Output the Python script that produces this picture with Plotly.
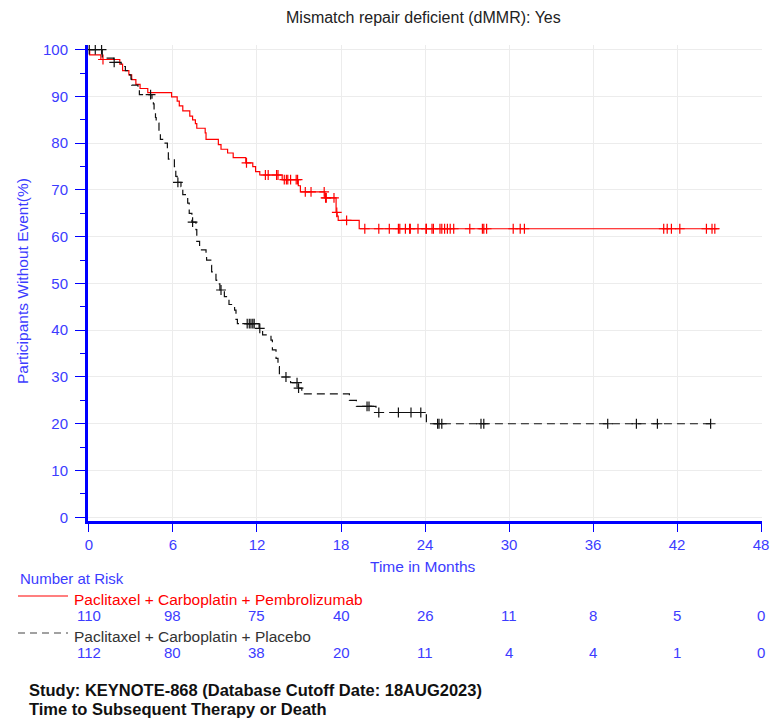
import numpy as np
import plotly.graph_objects as go

# ---- Kaplan-Meier data (months, % without event) ----
pembro_event_months = [0.05, 0.85, 2.2, 2.4, 2.85, 3.05, 3.35, 3.65, 4.2,
                       5.9, 6.3, 6.45, 6.7, 7.2, 7.4, 7.6, 7.7, 8.3, 8.36,
                       9.24, 9.43, 9.9, 10.3, 11.2, 11.7, 11.9, 12.2, 13.8,
                       14.95, 15.1, 16.85, 17.65, 17.72, 17.8, 19.3]
pembro_surv_pct = [98.9, 97.9, 96.9, 95.5, 94.6, 93.6, 92.6, 91.7, 90.8,
                   89.9, 89.0, 88.0, 86.9, 85.8, 85.0, 84.2, 83.2, 82.2, 80.8,
                   79.7, 78.7, 77.9, 76.9, 75.8, 75.0, 73.9, 73.2, 72.2,
                   70.9, 69.6, 68.3, 65.2, 64.4, 63.5, 61.7]
pembro_censor_months = [1.0, 11.25, 12.6, 12.8, 13.4, 13.5, 13.95, 14.1, 14.2,
                        14.4, 14.8, 14.9, 15.45, 15.86, 16.8, 16.9, 16.95, 17.5,
                        17.7, 18.4, 19.7, 20.7, 21.45, 22.1, 22.2, 22.6, 22.9,
                        22.95, 23.5, 24.07, 24.1, 24.5, 24.6, 25.07, 25.2, 25.4,
                        25.6, 25.8, 26.05, 27.2, 28.1, 28.2, 28.4, 30.3, 30.8,
                        31.1, 41.05, 41.3, 41.6, 42.2, 44.1, 44.5, 44.7]
pembro_last_month = 45.0

placebo_event_months = [0.95, 1.75, 2.3, 2.6, 2.9, 3.0, 3.05, 3.5, 3.6, 4.5,
                        4.6, 4.65, 4.75, 4.8, 5.0, 5.1, 5.26, 5.6, 5.67, 6.1,
                        6.2, 6.3, 6.57, 6.7, 7.05, 7.16, 7.35, 7.64, 7.7, 7.9,
                        8.36, 8.4, 8.7, 8.76, 9.07, 9.12, 9.35, 9.67, 10.0,
                        10.4, 10.5, 10.6, 12.15, 12.4, 13.0, 13.1, 13.36, 13.5,
                        13.6, 14.4, 14.95, 15.2, 18.6, 19.1, 20.5, 24.1]
placebo_surv_pct = [98.2, 97.3, 96.4, 95.5, 94.6, 93.7, 92.4, 91.4, 90.4, 89.3,
                    88.4, 86.6, 85.5, 84.3, 82.2, 80.8, 80.0, 78.6, 76.6, 75.0,
                    72.9, 71.6, 70.7, 69.0, 67.2, 65.0, 63.1, 61.5, 59.0, 57.2,
                    56.1, 55.0, 53.9, 52.5, 50.7, 49.9, 48.6, 47.2, 45.5,
                    44.3, 42.3, 41.4, 40.4, 39.0, 37.9, 35.8, 34.0, 32.2,
                    30.0, 28.8, 27.6, 26.4, 25.0, 23.7, 22.4, 20.0]
placebo_censor_months = [0.02, 0.45, 0.9, 1.8, 4.4, 6.35, 7.4, 9.43, 11.3, 11.45,
                         11.57, 11.7, 11.8, 12.2, 14.07, 14.86, 14.97, 19.86,
                         20.0, 20.7, 22.1, 23.0, 23.7, 24.9, 25.0, 25.2, 28.0,
                         28.2, 37.05, 39.1, 40.6, 44.4]
placebo_last_month = 44.55

# ---- Number at risk table ----
risk_months = [0, 6, 12, 18, 24, 30, 36, 42, 48]
pembro_at_risk = [110, 98, 75, 40, 26, 11, 8, 5, 0]
placebo_at_risk = [112, 80, 38, 20, 11, 4, 4, 1, 0]

pembro_label = "Paclitaxel + Carboplatin + Pembrolizumab"
placebo_label = "Paclitaxel + Carboplatin + Placebo"
chart_title = "Mismatch repair deficient (dMMR): Yes"
y_title = "Participants Without Event(%)"
x_title = "Time in Months"
footer_lines = ["Study: KEYNOTE-868 (Database Cutoff Date: 18AUG2023)",
                "Time to Subsequent Therapy or Death"]

# ---- layout geometry ----
W, H = 772, 718
L, R, T, B = 88, 10, 45, 197
PW, PH = W - L - R, H - T - B
FONT = "Liberation Sans, Arial, Helvetica, sans-serif"
BLUE = "#0000ff"
TXT_BLUE = "#3c3cff"
RED = "#ff0000"


def px_x(px):
    return (px - L) / PW


def px_y(py):
    return (H - B - py) / PH


def step_curve(ev_t, ev_s, last):
    xs = [0.0] + list(ev_t) + [last]
    ys = [100.0] + list(ev_s) + [ev_s[-1]]
    return xs, ys


def surv_at(times, ev_t, ev_s):
    t_arr = np.asarray(ev_t)
    s_arr = np.concatenate([[100.0], np.asarray(ev_s)])
    idx = np.searchsorted(t_arr, np.asarray(times), side="right")
    return s_arr[idx]


fig = go.Figure()

for ev_t, ev_s, last, cens, color, dash in [
    (pembro_event_months, pembro_surv_pct, pembro_last_month,
     pembro_censor_months, RED, "solid"),
    (placebo_event_months, placebo_surv_pct, placebo_last_month,
     placebo_censor_months, "#111111", "8px,5px"),
]:
    xs, ys = step_curve(ev_t, ev_s, last)
    fig.add_trace(go.Scatter(
        x=xs, y=ys, mode="lines", line_shape="hv",
        line=dict(color=color, width=1.2, dash=dash),
        hoverinfo="skip", showlegend=False))
    fig.add_trace(go.Scatter(
        x=cens, y=surv_at(cens, ev_t, ev_s), mode="markers",
        marker=dict(symbol="cross-thin", size=7,
                    line=dict(color=color, width=1.2), color=color),
        hoverinfo="skip", showlegend=False))

annotations = []

# chart title
annotations.append(dict(text=chart_title, x=px_x(423), y=px_y(18),
                        xref="paper", yref="paper", showarrow=False,
                        xanchor="center", yanchor="middle",
                        font=dict(family=FONT, size=16, color="#222222")))
# axis titles
annotations.append(dict(text=y_title, x=px_x(22), y=px_y(281),
                        xref="paper", yref="paper", showarrow=False,
                        textangle=-90, xanchor="center", yanchor="middle",
                        font=dict(family=FONT, size=15.5, color=TXT_BLUE)))
annotations.append(dict(text=x_title, x=px_x(423), y=px_y(566),
                        xref="paper", yref="paper", showarrow=False,
                        xanchor="center", yanchor="middle",
                        font=dict(family=FONT, size=15.5, color=TXT_BLUE)))
# number at risk block
annotations.append(dict(text="Number at Risk", x=px_x(18), y=px_y(578),
                        xref="paper", yref="paper", showarrow=False,
                        xanchor="left", yanchor="middle",
                        font=dict(family=FONT, size=15, color=TXT_BLUE)))
annotations.append(dict(text=pembro_label, x=px_x(72), y=px_y(599),
                        xref="paper", yref="paper", showarrow=False,
                        xanchor="left", yanchor="middle",
                        font=dict(family=FONT, size=15.5, color=RED)))
annotations.append(dict(text=placebo_label, x=px_x(72), y=px_y(636),
                        xref="paper", yref="paper", showarrow=False,
                        xanchor="left", yanchor="middle",
                        font=dict(family=FONT, size=15.5, color="#333333")))
for m, n1, n2 in zip(risk_months, pembro_at_risk, placebo_at_risk):
    for n, py in [(n1, 615), (n2, 652)]:
        annotations.append(dict(text=str(n), x=m, y=px_y(py),
                                xref="x", yref="paper", showarrow=False,
                                xanchor="center", yanchor="middle",
                                font=dict(family=FONT, size=15,
                                          color=TXT_BLUE)))
for i, line in enumerate(footer_lines):
    annotations.append(dict(text="<b>%s</b>" % line, x=px_x(27),
                            y=px_y(690 + 19 * i),
                            xref="paper", yref="paper", showarrow=False,
                            xanchor="left", yanchor="middle",
                            font=dict(family=FONT, size=16.5,
                                      color="#111111")))

shapes = [
    dict(type="line", xref="paper", yref="paper",
         x0=px_x(18), x1=px_x(68), y0=px_y(596), y1=px_y(596),
         line=dict(color=RED, width=1.2)),
    dict(type="line", xref="paper", yref="paper",
         x0=px_x(18), x1=px_x(68), y0=px_y(633), y1=px_y(633),
         line=dict(color="#444444", width=1.2, dash="7px,5px")),
]

fig.update_layout(
    width=W, height=H,
    margin=dict(l=L, r=R, t=T, b=B, pad=0, autoexpand=False),
    paper_bgcolor="white", plot_bgcolor="white",
    showlegend=False, hovermode=False,
    annotations=annotations, shapes=shapes,
    font=dict(family=FONT, size=15, color=TXT_BLUE),
)
fig.update_xaxes(
    range=[-0.07, 48.07], tickmode="array", tickvals=risk_months,
    automargin=False,
    showgrid=True, gridcolor="#ececec", gridwidth=1, zeroline=False,
    showline=True, linecolor=BLUE, linewidth=3,
    ticks="outside", ticklen=8, tickwidth=1, tickcolor=BLUE,
    tickfont=dict(family=FONT, size=15, color=TXT_BLUE),
)
fig.update_yaxes(
    range=[-0.8, 101.0], tickmode="linear", tick0=0, dtick=10,
    automargin=False, ticklabelstandoff=4,
    showgrid=True, gridcolor="#ececec", gridwidth=1, zeroline=False,
    showline=True, linecolor=BLUE, linewidth=3,
    ticks="outside", ticklen=10, tickwidth=1, tickcolor=BLUE,
    tickfont=dict(family=FONT, size=15, color=TXT_BLUE),
    minor=dict(dtick=5, tick0=0, ticks="outside", ticklen=5,
               tickwidth=1, tickcolor=BLUE, showgrid=False),
)

fig.write_html("out.html")
